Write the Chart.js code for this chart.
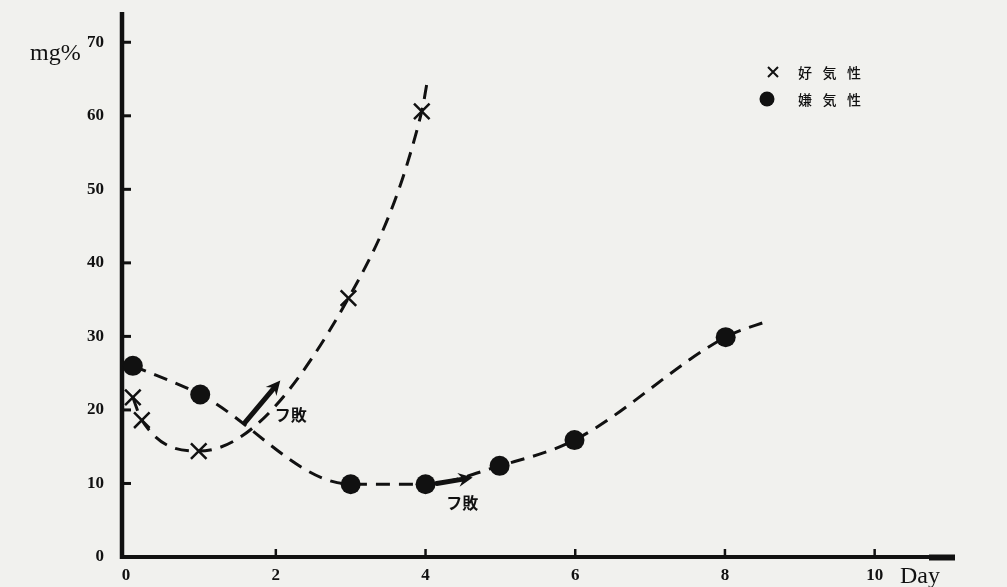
<!DOCTYPE html>
<html>
<head>
<meta charset="utf-8">
<script src="https://cdn.jsdelivr.net/npm/chart.js@4.4.1/dist/chart.umd.min.js"></script>
<style>
  html, body { margin: 0; padding: 0; background: #f1f1ee; }
  #wrap { width: 1007px; height: 587px; position: relative; }
</style>
</head>
<body>
<div id="wrap"><canvas id="chart" width="1007" height="587"></canvas></div>
<script>
// 好気性 (aerobic) — days / SH mg%
const aerobicDays = [0.09, 0.21, 0.97, 2.97, 3.95];
const aerobicValues = [21.7, 18.6, 14.4, 35.2, 60.6];
const aerobicTail = [{ x: 4.02, y: 64.5 }];

// 嫌気性 (anaerobic)
const anaerobicDays = [0.09, 0.99, 3.0, 4.0, 4.99, 5.99, 8.01];
const anaerobicValues = [26.0, 22.1, 9.9, 9.9, 12.4, 15.9, 29.9];
const anaerobicTail = [{ x: 8.6, y: 32.2 }];

const yTicks = [0, 10, 20, 30, 40, 50, 60, 70];
const xTicks = [0, 2, 4, 6, 8, 10];

const legendLabels = ['好気性', '嫌気性'];
const spoilLabel = 'フ敗';
// arrows marking the onset of spoilage, in data units
const spoilArrows = [
  { from: { x: 1.59, y: 18.3 }, to: { x: 2.06, y: 24.0 }, text: { x: 2.2, y: 19.3 } },
  { from: { x: 4.15, y: 10.0 }, to: { x: 4.63, y: 10.8 }, text: { x: 4.49, y: 7.3 } }
];

function toPoints(xs, ys, tail) {
  return xs.map((x, i) => ({ x: x, y: ys[i] })).concat(tail);
}

function drawArrow(ctx, x1, y1, x2, y2, w, head) {
  const a = Math.atan2(y2 - y1, x2 - x1);
  ctx.save();
  ctx.strokeStyle = '#111';
  ctx.fillStyle = '#111';
  ctx.lineWidth = w;
  ctx.lineCap = 'round';
  ctx.beginPath();
  ctx.moveTo(x1, y1);
  ctx.lineTo(x2 - Math.cos(a) * head * 0.6, y2 - Math.sin(a) * head * 0.6);
  ctx.stroke();
  ctx.beginPath();
  ctx.moveTo(x2, y2);
  ctx.lineTo(x2 - head * Math.cos(a - 0.45), y2 - head * Math.sin(a - 0.45));
  ctx.lineTo(x2 - head * 0.6 * Math.cos(a), y2 - head * 0.6 * Math.sin(a));
  ctx.lineTo(x2 - head * Math.cos(a + 0.45), y2 - head * Math.sin(a + 0.45));
  ctx.closePath();
  ctx.fill();
  ctx.restore();
}

// axes, ticks, titles, legend and spoilage arrows
const decorations = {
  id: 'decorations',
  beforeDatasetsDraw(chart) {
    const ctx = chart.ctx;
    const xs = chart.scales.x, ys = chart.scales.y;
    const ax = xs.getPixelForValue(xs.min);
    const ay = ys.getPixelForValue(0);
    ctx.save();
    ctx.strokeStyle = '#111';
    ctx.lineCap = 'butt';
    // y axis
    ctx.lineWidth = 4.5;
    ctx.beginPath();
    ctx.moveTo(ax, ay + 2);
    ctx.lineTo(ax, 12);
    ctx.stroke();
    // x axis
    ctx.lineWidth = 4;
    ctx.beginPath();
    ctx.moveTo(ax - 2, ay);
    ctx.lineTo(xs.right, ay);
    ctx.stroke();
    ctx.lineWidth = 6;
    ctx.beginPath();
    ctx.moveTo(xs.right - 22, ay + 0.5);
    ctx.lineTo(xs.right + 4, ay + 0.5);
    ctx.stroke();
    // y tick marks (inward)
    ctx.lineWidth = 3;
    yTicks.forEach(v => {
      if (v === 0) return;
      const y = ys.getPixelForValue(v);
      ctx.beginPath();
      ctx.moveTo(ax, y);
      ctx.lineTo(ax + 9, y);
      ctx.stroke();
    });
    // x tick marks (upward)
    ctx.lineWidth = 2.5;
    xTicks.forEach(v => {
      if (v === 0) return;
      const x = xs.getPixelForValue(v);
      ctx.beginPath();
      ctx.moveTo(x, ay);
      ctx.lineTo(x, ay - 8);
      ctx.stroke();
    });
    // titles
    ctx.fillStyle = '#111';
    ctx.font = '24px "Liberation Serif", serif';
    ctx.textBaseline = 'alphabetic';
    ctx.textAlign = 'left';
    ctx.fillText('mg%', 30, 60);
    ctx.fillText('Day', 900, 583);
    ctx.restore();
  },
  afterDatasetsDraw(chart) {
    const ctx = chart.ctx;
    const xs = chart.scales.x, ys = chart.scales.y;
    ctx.save();
    // spoilage arrows
    spoilArrows.forEach(a => {
      drawArrow(ctx,
        xs.getPixelForValue(a.from.x), ys.getPixelForValue(a.from.y),
        xs.getPixelForValue(a.to.x), ys.getPixelForValue(a.to.y), 5, 16);
      ctx.fillStyle = '#111';
      ctx.font = 'bold 16px "Noto Sans CJK JP", sans-serif';
      ctx.textAlign = 'center';
      ctx.textBaseline = 'middle';
      ctx.fillText(spoilLabel, xs.getPixelForValue(a.text.x), ys.getPixelForValue(a.text.y));
    });
    // legend
    const lx = 773, rows = [72, 99];
    ctx.strokeStyle = '#111';
    ctx.lineWidth = 2;
    ctx.beginPath();
    ctx.moveTo(lx - 5, rows[0] - 5); ctx.lineTo(lx + 5, rows[0] + 5);
    ctx.moveTo(lx + 5, rows[0] - 5); ctx.lineTo(lx - 5, rows[0] + 5);
    ctx.stroke();
    ctx.fillStyle = '#111';
    ctx.beginPath();
    ctx.arc(lx - 6, rows[1], 7.5, 0, Math.PI * 2);
    ctx.fill();
    ctx.font = '500 14px "Noto Sans CJK JP", sans-serif';
    ctx.textAlign = 'left';
    ctx.textBaseline = 'middle';
    legendLabels.forEach((label, r) => {
      Array.from(label).forEach((ch, i) => {
        ctx.fillText(ch, 798 + i * 24.5, rows[r] + 1);
      });
    });
    ctx.restore();
  }
};

const measuredCount = [aerobicDays.length, anaerobicDays.length];

new Chart(document.getElementById('chart'), {
  type: 'line',
  data: {
    datasets: [
      {
        label: legendLabels[0],
        data: toPoints(aerobicDays, aerobicValues, aerobicTail),
        borderColor: '#111',
        borderWidth: 3,
        borderDash: [14, 9],
        cubicInterpolationMode: 'monotone',
        pointStyle: 'crossRot',
        pointRadius: c => c.dataIndex < measuredCount[0] ? 11 : 0,
        pointBorderWidth: 2.5,
        pointBorderColor: '#111',
        fill: false
      },
      {
        label: legendLabels[1],
        data: toPoints(anaerobicDays, anaerobicValues, anaerobicTail),
        borderColor: '#111',
        borderWidth: 3,
        borderDash: [14, 9],
        cubicInterpolationMode: 'monotone',
        pointStyle: 'circle',
        pointRadius: c => c.dataIndex < measuredCount[1] ? 10 : 0,
        pointBackgroundColor: '#111',
        pointBorderColor: '#111',
        pointBorderWidth: 0,
        fill: false
      }
    ]
  },
  options: {
    responsive: false,
    animation: false,
    layout: { padding: { top: 12, right: 56, left: 0, bottom: 0 } },
    plugins: { legend: { display: false }, tooltip: { enabled: false } },
    scales: {
      x: {
        type: 'linear',
        min: -0.055,
        max: 11.02,
        grid: { display: false },
        border: { display: false },
        afterBuildTicks: s => { s.ticks = xTicks.map(v => ({ value: v })); },
        afterFit: s => { s.height = 30; },
        ticks: {
          padding: 0,
          color: '#111',
          font: { family: '"Liberation Serif", serif', size: 17, weight: 'bold' }
        }
      },
      y: {
        min: 0,
        max: 73,
        grid: { display: false },
        border: { display: false },
        afterBuildTicks: s => { s.ticks = yTicks.map(v => ({ value: v })); },
        afterFit: s => { s.width = 122; },
        ticks: {
          padding: 10,
          color: '#111',
          font: { family: '"Liberation Serif", serif', size: 17, weight: 'bold' }
        }
      }
    }
  },
  plugins: [decorations]
});
</script>
</body>
</html>
